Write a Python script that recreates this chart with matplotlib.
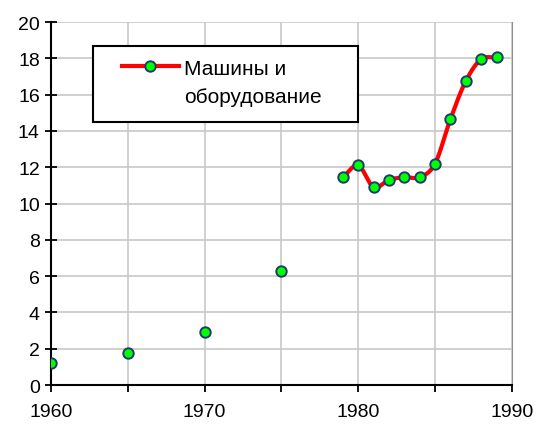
import numpy as np
import matplotlib.pyplot as plt
from matplotlib.patches import Rectangle

plt.rcParams['font.family'] = ['Liberation Sans', 'DejaVu Sans']

# values
years_early = [1960, 1965, 1970, 1975]
vals_early = [1.2, 1.75, 2.9, 6.3]
years_late = [1979, 1980, 1981, 1982, 1983, 1984, 1985, 1986, 1987, 1988, 1989]
vals_late = [11.45, 12.1, 10.9, 11.3, 11.45, 11.45, 12.2, 14.65, 16.75, 17.95, 18.05]
label_lines = ['Машины и', 'оборудование']


def smooth(x, y, n=40):
    # Catmull-Rom style curve through the points (like Excel smoothed line)
    x = np.asarray(x, float)
    y = np.asarray(y, float)
    px = np.concatenate([[2 * x[0] - x[1]], x, [2 * x[-1] - x[-2]]])
    py = np.concatenate([[2 * y[0] - y[1]], y, [2 * y[-1] - y[-2]]])
    xs, ys = [], []
    t = np.linspace(0, 1, n)
    for i in range(1, len(px) - 2):
        p0, p1, p2, p3 = py[i - 1], py[i], py[i + 1], py[i + 2]
        q0, q1, q2, q3 = px[i - 1], px[i], px[i + 1], px[i + 2]
        ys.append(0.5 * (2 * p1 + (-p0 + p2) * t + (2 * p0 - 5 * p1 + 4 * p2 - p3) * t**2
                         + (-p0 + 3 * p1 - 3 * p2 + p3) * t**3))
        xs.append(0.5 * (2 * q1 + (-q0 + q2) * t + (2 * q0 - 5 * q1 + 4 * q2 - q3) * t**2
                         + (-q0 + 3 * q1 - 3 * q2 + q3) * t**3))
    return np.concatenate(xs), np.concatenate(ys)


fig = plt.figure(figsize=(5.36, 4.27), dpi=100)
ax = fig.add_axes([0.095, 0.096, 0.86, 0.85])

mk = dict(marker='o', markersize=7.5, markerfacecolor='#00ff00',
          markeredgecolor='#1f3a6e', markeredgewidth=1.4, linestyle='none', zorder=4)

sx, sy = smooth(years_late, vals_late)
ax.plot(sx, sy, color='#ff0000', lw=3, zorder=3, solid_capstyle='round')
ax.plot(years_early, vals_early, **mk)
ax.plot(years_late, vals_late, **mk)

# legend box drawn separately (Excel style: wide side padding)
ax.add_patch(Rectangle((0.091, 0.7245), 0.575, 0.209, transform=ax.transAxes,
                       facecolor='white', edgecolor='black', lw=1.5, zorder=5))
ax.plot([], [], color='#ff0000', lw=3, marker='o', markersize=7.5,
        markerfacecolor='#00ff00', markeredgecolor='#1f3a6e',
        markeredgewidth=1.4, label=label_lines[0])
leg = ax.legend(loc='center left', bbox_to_anchor=(0.154, 0.873), fontsize=15,
                frameon=False, handlelength=2.74, handletextpad=0.24,
                borderpad=0, borderaxespad=0)
leg.set_zorder(6)
ax.text(0.2885, 0.796, label_lines[1], transform=ax.transAxes, fontsize=15,
        va='center', ha='left', zorder=7)

ax.set_xlim(1960, 1990)
ax.set_ylim(0, 20)
ax.set_xticks(np.arange(1960, 1991, 5))
ax.set_xticklabels(['1960', '', '1970', '', '1980', '', '1990'])
ax.set_yticks(np.arange(0, 21, 2))
ax.grid(True, color='#c8c8c8', lw=1.2)
ax.set_axisbelow(True)

ax.spines['top'].set_visible(False)
ax.spines['right'].set_color('#909090')
ax.spines['left'].set_linewidth(1.5)
ax.spines['bottom'].set_linewidth(1.5)
ax.tick_params(axis='both', labelsize=14, length=5, width=1.3, direction='out')
ax.tick_params(axis='y', direction='inout', length=8, pad=4)
ax.tick_params(axis='x', pad=8)

fig.savefig('out.png', dpi=100)
